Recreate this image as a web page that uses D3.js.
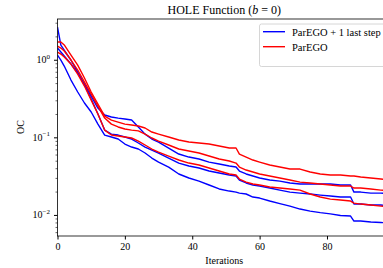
<!DOCTYPE html>
<html>
<head>
<meta charset="utf-8">
<script src="https://cdn.jsdelivr.net/npm/d3@7"></script>
<style>
  body { margin: 0; background: #fff; overflow: hidden; }
  text { font-family: "Liberation Serif", "DejaVu Serif", serif; fill: #000; }
</style>
</head>
<body>
<div id="chart"></div>
<script>
const iters = [0, 1, 2, 4, 6, 8, 10, 12, 14, 16, 18, 20, 22, 24, 26, 28, 30, 33, 36, 39, 42, 45, 48, 51,
    53, 54, 56, 58, 60, 63, 66, 69, 72, 75, 78, 81, 84, 87, 88, 90, 93, 96, 99];

// ParEGO + 1 last step (blue)
const blue1 = [1.415, 1.257, 1.116, 0.880, 0.674, 0.486, 0.340, 0.238, 0.194, 0.183, 0.177, 0.172, 0.167, 0.136, 0.110, 0.0951, 0.0870,
    0.0728, 0.0609, 0.0557, 0.0525, 0.0480, 0.0453, 0.0427, 0.0414, 0.0368, 0.0337, 0.0317, 0.0299,
    0.0282, 0.0273, 0.0258, 0.0250, 0.0250, 0.0250, 0.0250, 0.0243, 0.0243, 0.0197, 0.0197, 0.0191, 0.0191, 0.0186];
const blue2 = [2.64, 1.547, 1.334, 0.991, 0.694, 0.472, 0.312, 0.200, 0.124, 0.110, 0.107, 0.101, 0.0951, 0.0845, 0.0750, 0.0686, 0.0628,
    0.0541, 0.0466, 0.0427, 0.0402, 0.0368, 0.0347, 0.0327, 0.0317, 0.0282, 0.0258, 0.0243, 0.0236,
    0.0222, 0.0209, 0.0197, 0.0191, 0.0186, 0.0180, 0.0175, 0.0170, 0.0170, 0.0138, 0.0138, 0.0134, 0.0134, 0.0130];
const blue3 = [1.150, 0.991, 0.829, 0.547, 0.384, 0.277, 0.212, 0.148, 0.107, 0.101, 0.0951, 0.0820, 0.0750, 0.0707, 0.0628, 0.0541, 0.0480,
    0.0414, 0.0337, 0.0299, 0.0273, 0.0243, 0.0216, 0.0203, 0.0197, 0.0191, 0.0186, 0.0170, 0.0165,
    0.0151, 0.0140, 0.0130, 0.0119, 0.0112, 0.0107, 0.0103, 0.00982, 0.00968, 0.00834, 0.00834, 0.00810, 0.00798, 0.00786];

// ParEGO (red)
const red1 = [1.69, 1.69, 1.55, 1.15, 0.854, 0.581, 0.384, 0.269, 0.188, 0.167, 0.157, 0.148, 0.144, 0.140, 0.132, 0.117, 0.110,
    0.101, 0.0923, 0.0870, 0.0845, 0.0820, 0.0772, 0.0728, 0.0728, 0.0609, 0.0557, 0.0510, 0.0480,
    0.0440, 0.0414, 0.0390, 0.0390, 0.0357, 0.0337, 0.0327, 0.0327, 0.0317, 0.0317, 0.0308, 0.0299, 0.0290, 0.0282];
const red2 = [1.50, 1.415, 1.295, 0.991, 0.737, 0.516, 0.361, 0.253, 0.177, 0.148, 0.136, 0.128, 0.124, 0.121, 0.110, 0.0980, 0.0896,
    0.0796, 0.0707, 0.0666, 0.0628, 0.0574, 0.0525, 0.0495, 0.0466, 0.0414, 0.0379, 0.0357, 0.0337,
    0.0317, 0.0299, 0.0282, 0.0265, 0.0258, 0.0250, 0.0243, 0.0236, 0.0236, 0.0222, 0.0222, 0.0216, 0.0209, 0.0203];
const red3 = [1.257, 1.184, 1.083, 0.880, 0.654, 0.458, 0.302, 0.200, 0.124, 0.107, 0.104, 0.101, 0.0980, 0.0896, 0.0796, 0.0707, 0.0646,
    0.0574, 0.0510, 0.0466, 0.0440, 0.0402, 0.0368, 0.0337, 0.0327, 0.0290, 0.0265, 0.0250, 0.0243,
    0.0229, 0.0222, 0.0216, 0.0209, 0.0186, 0.0170, 0.0160, 0.0156, 0.0151, 0.0142, 0.0138, 0.0134, 0.0130, 0.0126];

const xTicks = [0, 20, 40, 60, 80];
const yTicks = [0.01, 0.1, 1];
const yTickExp = ["\u22122", "\u22121", "0"];
const legendLabels = ["ParEGO + 1 last step", "ParEGO"];

const series = [
    { color: "#0000ff", values: blue1 },
    { color: "#0000ff", values: blue2 },
    { color: "#0000ff", values: blue3 },
    { color: "#ff0000", values: red1 },
    { color: "#ff0000", values: red2 },
    { color: "#ff0000", values: red3 }
];

// Plot box (the right spine falls outside the picture)
const W = 383, H = 268;
const box = { left: 57.5, right: 391, top: 19, bottom: 236 };

const svg = d3.select("#chart").append("svg")
    .attr("width", W)
    .attr("height", H);

const x = d3.scaleLinear().domain([0, 99]).range([box.left, box.right]);
const y = d3.scaleLog().domain([0.00535, 3.35]).range([box.bottom, box.top]);

svg.append("clipPath").attr("id", "clip")
    .append("rect")
    .attr("x", box.left).attr("y", box.top)
    .attr("width", box.right - box.left).attr("height", box.bottom - box.top);

// Curves
const line = d3.line()
    .x((d, i) => x(iters[i]))
    .y(d => y(d));

svg.append("g")
    .attr("clip-path", "url(#clip)")
    .selectAll("path")
    .data(series)
    .enter().append("path")
    .attr("d", d => line(d.values))
    .attr("fill", "none")
    .attr("stroke", d => d.color)
    .attr("stroke-width", 1.4)
    .attr("stroke-linejoin", "round");

// X axis
const xAxis = svg.append("g")
    .attr("transform", `translate(0,${box.bottom})`)
    .call(d3.axisBottom(x).tickValues(xTicks).tickSize(3.5).tickSizeOuter(0).tickPadding(3));
xAxis.select(".domain").remove();
xAxis.selectAll("text").style("font-size", "10px").style("font-family", "Liberation Serif, serif");

// Y axis: minor ticks
const minor = [];
[0.001, 0.01, 0.1, 1].forEach(e => {
    for (let k = 2; k <= 9; k++) {
        const v = k * e;
        if (v > y.domain()[0] && v < y.domain()[1]) minor.push(v);
    }
});
const yMinor = svg.append("g")
    .attr("transform", `translate(${box.left},0)`)
    .call(d3.axisLeft(y).tickValues(minor).tickSize(2).tickSizeOuter(0).tickFormat(""));
yMinor.select(".domain").remove();
yMinor.selectAll("line").attr("stroke-width", 0.6);

// Y axis: major ticks with 10^n labels
const yMajor = svg.append("g")
    .attr("transform", `translate(${box.left},0)`)
    .call(d3.axisLeft(y).tickValues(yTicks).tickSize(3.5).tickSizeOuter(0).tickFormat(""));
yMajor.select(".domain").remove();

yTicks.forEach((v, i) => {
    const t = svg.append("text")
        .attr("x", 50)
        .attr("y", y(v) + 3.4)
        .attr("text-anchor", "end")
        .style("font-size", "10px");
    t.append("tspan").text("10");
    t.append("tspan")
        .attr("dy", -4.5)
        .style("font-size", "7px")
        .text(yTickExp[i]);
});

// Frame
svg.append("rect")
    .attr("x", box.left).attr("y", box.top)
    .attr("width", box.right - box.left).attr("height", box.bottom - box.top)
    .attr("fill", "none")
    .attr("stroke", "#000")
    .attr("stroke-width", 0.8);

// Title and axis labels
const title = svg.append("text")
    .attr("x", (box.left + box.right) / 2)
    .attr("y", 13.5)
    .attr("text-anchor", "middle")
    .style("font-size", "12px");
title.append("tspan").text("HOLE Function (");
title.append("tspan").style("font-style", "italic").text("b");
title.append("tspan").text(" = 0)");

svg.append("text")
    .attr("x", (box.left + box.right) / 2)
    .attr("y", 263.5)
    .attr("text-anchor", "middle")
    .style("font-size", "10px")
    .text("Iterations");

svg.append("text")
    .attr("transform", `translate(24,127) rotate(-90)`)
    .attr("text-anchor", "middle")
    .style("font-size", "10px")
    .text("OC");

// Legend
const legend = svg.append("g");
legend.append("rect")
    .attr("x", 259.5).attr("y", 24)
    .attr("width", 127).attr("height", 42.5)
    .attr("rx", 2)
    .attr("fill", "#fff").attr("fill-opacity", 0.8)
    .attr("stroke", "#ccc").attr("stroke-width", 0.8);

const legendColors = ["#0000ff", "#ff0000"];
legendLabels.forEach((label, i) => {
    const ly = 31.7 + i * 15;
    legend.append("line")
        .attr("x1", 263).attr("x2", 285)
        .attr("y1", ly).attr("y2", ly)
        .attr("stroke", legendColors[i])
        .attr("stroke-width", 1.4);
    legend.append("text")
        .attr("x", 292)
        .attr("y", ly + 3.8)
        .style("font-size", "10.5px")
        .text(label);
});
</script>
</body>
</html>
